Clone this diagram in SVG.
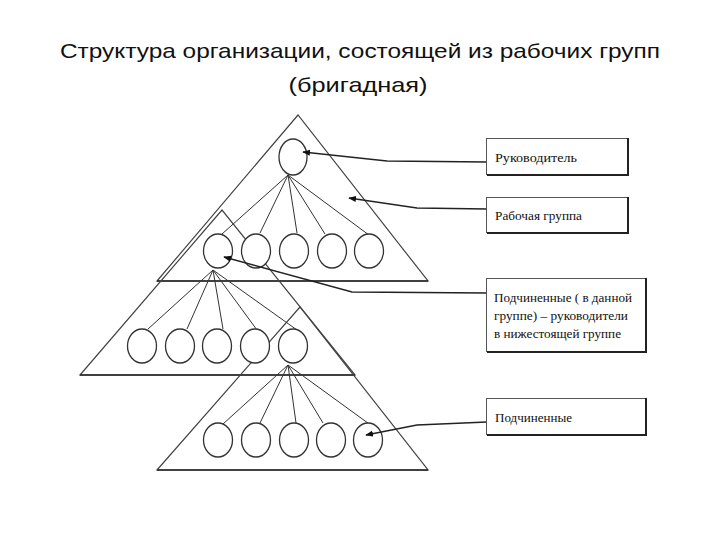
<svg xmlns="http://www.w3.org/2000/svg" width="720" height="540" viewBox="0 0 720 540">
<style>
.title{font-family:"Liberation Sans","Noto Sans",sans-serif;font-size:21px;fill:#111}
.tri{fill:none;stroke:#444;stroke-width:1.2}
.base{stroke:#222;stroke-width:1.6}
.node{fill:#fff;stroke:#333;stroke-width:1.3}
.link{fill:none;stroke:#333;stroke-width:1}
.box{fill:#fff;stroke:#555;stroke-width:1}
.shadow{fill:none;stroke:#222;stroke-width:2}
.lbl{font-family:"Liberation Serif","DejaVu Serif",serif;font-size:12px;fill:#111}
.conn{fill:none;stroke:#222;stroke-width:1.3}
</style>
<defs>
<marker id="arr" viewBox="0 0 10 10" refX="9" refY="5" markerWidth="6" markerHeight="6" orient="auto-start-reverse">
<path d="M0,1 L10,5 L0,9 z" fill="#111"/>
</marker>
</defs>
<g id="title">
<text class="title" x="360" y="58" text-anchor="middle" textLength="600" lengthAdjust="spacingAndGlyphs">Структура организации, состоящей из рабочих групп</text>
<text class="title" x="358" y="92" text-anchor="middle" textLength="139" lengthAdjust="spacingAndGlyphs">(бригадная)</text>
</g>
<g id="triangles">
<polygon class="tri" points="298,115 157,281 428,281"/>
<line class="base" x1="157" y1="281" x2="428" y2="281" stroke-width="2.2"/>
<polygon class="tri" points="222,210 80,375 355,375"/>
<line class="base" x1="80" y1="375" x2="355" y2="375"/>
<polygon class="tri" points="300,307 157,470 428,470"/>
<line class="base" x1="157" y1="470" x2="428" y2="470"/>
</g>
<g id="tree-links">
<path class="link" d="M288,175 L222,234 M288,175 L260,233 M288,175 L297,233 M288,175 L325,234 M288,175 L373,238"/>
<path class="link" d="M213,270 L148,329 M213,270 L187,329 M213,270 L223,329 M213,270 L257,330 M213,270 L297,330"/>
<path class="link" d="M288,365 L223,424 M288,365 L260,423 M288,365 L296,423 M288,365 L323,423 M288,365 L372,426"/>
</g>
<g id="node-leader"><ellipse class="node" cx="293" cy="157" rx="14" ry="18"/></g>
<g id="row1">
<ellipse class="node" cx="218" cy="251" rx="14.5" ry="17"/>
<ellipse class="node" cx="256" cy="251" rx="14.5" ry="17"/>
<ellipse class="node" cx="294" cy="251" rx="14.5" ry="17"/>
<ellipse class="node" cx="332" cy="251" rx="14.5" ry="17"/>
<ellipse class="node" cx="369" cy="251" rx="14.5" ry="17"/>
</g>
<g id="row2">
<ellipse class="node" cx="142" cy="346" rx="14.5" ry="17"/>
<ellipse class="node" cx="180" cy="346" rx="14.5" ry="17"/>
<ellipse class="node" cx="217" cy="346" rx="14.5" ry="17"/>
<ellipse class="node" cx="255" cy="346" rx="14.5" ry="17"/>
<ellipse class="node" cx="293" cy="346" rx="14.5" ry="17"/>
</g>
<g id="row3">
<ellipse class="node" cx="218" cy="440" rx="14.5" ry="17"/>
<ellipse class="node" cx="256" cy="440" rx="14.5" ry="17"/>
<ellipse class="node" cx="294" cy="440" rx="14.5" ry="17"/>
<ellipse class="node" cx="331" cy="440" rx="14.5" ry="17"/>
<ellipse class="node" cx="368" cy="440" rx="14.5" ry="17"/>
</g>
<g id="connectors">
<polyline class="conn" points="487,162 387,161 303,152" marker-end="url(#arr)"/>
<polyline class="conn" points="487,209 417,208 349,198" marker-end="url(#arr)"/>
<polyline class="conn" points="487,293 352,292 224,257" marker-end="url(#arr)"/>
<polyline class="conn" points="487,422 417,425 366,435" marker-end="url(#arr)"/>
</g>
<g id="box-leader">
<rect class="box" x="486.5" y="138.5" width="141" height="36"/>
<polyline class="shadow" points="628,138 628,175 487,175"/>
<text class="lbl" x="495" y="162" textLength="82" lengthAdjust="spacingAndGlyphs">Руководитель</text>
</g>
<g id="box-group">
<rect class="box" x="486.5" y="197.5" width="141" height="35"/>
<polyline class="shadow" points="628,197 628,233 487,233"/>
<text class="lbl" x="495" y="220" textLength="87" lengthAdjust="spacingAndGlyphs">Рабочая группа</text>
</g>
<g id="box-sub-leaders">
<rect class="box" x="486.5" y="278.5" width="159" height="73"/>
<polyline class="shadow" points="646,278 646,352 487,352"/>
<text class="lbl" x="494" y="302" textLength="138" lengthAdjust="spacingAndGlyphs">Подчиненные ( в данной</text>
<text class="lbl" x="494" y="320" textLength="134" lengthAdjust="spacingAndGlyphs">группе) – руководители</text>
<text class="lbl" x="494" y="338" textLength="127" lengthAdjust="spacingAndGlyphs">в нижестоящей группе</text>
</g>
<g id="box-sub">
<rect class="box" x="486.5" y="398.5" width="159" height="36"/>
<polyline class="shadow" points="646,398 646,435 487,435"/>
<text class="lbl" x="495" y="422" textLength="77" lengthAdjust="spacingAndGlyphs">Подчиненные</text>
</g>
</svg>
